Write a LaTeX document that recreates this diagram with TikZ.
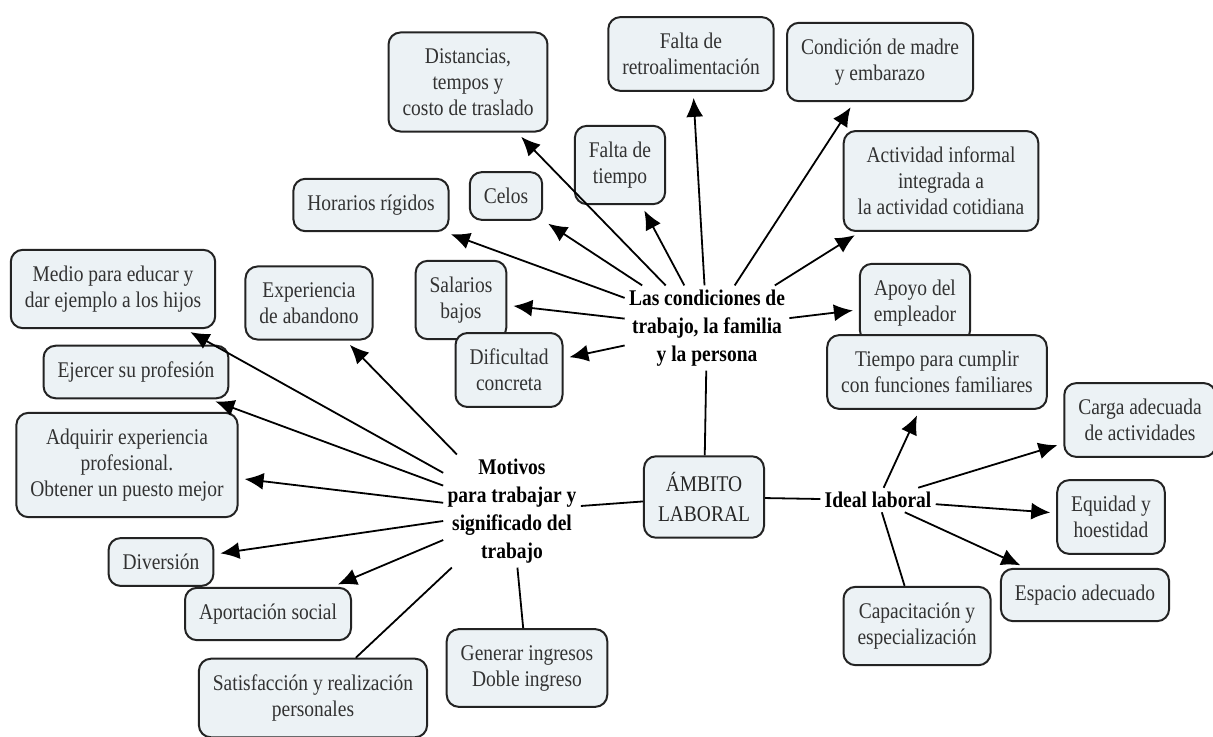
\documentclass[tikz,border=0pt]{standalone}
\usepackage{fontspec}
\setmainfont{Liberation Serif}[FakeStretch=0.87]
\usepackage{tikz}
\usetikzlibrary{positioning}
\usetikzlibrary{shapes,arrows.meta}

\definecolor{boxfill}{RGB}{236,242,245}
\definecolor{boxline}{RGB}{35,35,35}
\definecolor{boxtext}{RGB}{50,50,50}

\tikzset{
  idea/.style={draw=boxline, fill=boxfill, line width=1pt, rounded corners=6pt,
    align=center, text=boxtext, inner xsep=7pt, inner ysep=8pt,
    font=\rmfamily\fontsize{11.2}{13}\selectfont},
  hub/.style={align=center, inner sep=2pt, font=\rmfamily\fontsize{11.2}{14}\selectfont\bfseries},
  link/.style={draw=black, line width=0.9pt},
  arr/.style={link, -{Latex[length=9.5pt,width=8.5pt]}, shorten >=3pt},
}

\begin{document}
\begin{tikzpicture}[x=0.5pt,y=-0.5pt]
  \useasboundingbox (0,0) rectangle (1213,737);

  % centre
  \node[idea, text=black!85] (ambito) at (704,497) {ÁMBITO\\[2pt]LABORAL};
  \node[hub] (condiciones) at (707,328) {Las condiciones de\\trabajo, la familia\\y la persona};
  \node[hub] (motivos) at (512,511) {Motivos\\para trabajar y\\significado del\\trabajo};
  \node[hub] (ideal) at (878,500) {Ideal laboral};

  % condiciones
  \node[idea] (dist) at (468,82) {Distancias,\\tempos y\\costo de traslado};
  \node[idea] (retro) at (691,54) {Falta de\\retroalimentación};
  \node[idea] (cond) at (880,62) {Condición de madre\\y embarazo};
  \node[idea] (ftiempo) at (620,165) {Falta de\\tiempo};
  \node[idea] (celos) at (506,196) {Celos};
  \node[idea] (horarios) at (371,205) {Horarios rígidos};
  \node[idea] (activ) at (941,181) {Actividad informal\\integrada a\\la actividad cotidiana};
  \node[idea] (salarios) at (461,300) {Salarios\\bajos};
  \node[idea] (apoyo) at (915,303) {Apoyo del\\empleador};
  \node[idea] (dificultad) at (509,370) {Dificultad\\concreta};

  % motivos
  \node[idea] (medio) at (113,289) {Medio para educar y\\dar ejemplo a los hijos};
  \node[idea] (experiencia) at (309,303) {Experiencia\\de abandono};
  \node[idea] (ejercer) at (136,372) {Ejercer su profesión};
  \node[idea] (adquirir) at (127,465) {Adquirir experiencia\\profesional.\\Obtener un puesto mejor};
  \node[idea] (diversion) at (161,562) {Diversión};
  \node[idea] (aportacion) at (268,614) {Aportación social};
  \node[idea] (satisfaccion) at (313,698) {Satisfacción y realización\\personales};
  \node[idea] (generar) at (527,668) {Generar ingresos\\Doble ingreso};

  % ideal
  \node[idea] (tiempo) at (937,372) {Tiempo para cumplir\\con funciones familiares};
  \node[idea] (carga) at (1140,420) {Carga adecuada\\de actividades};
  \node[idea] (equidad) at (1111,517) {Equidad y\\hoestidad};
  \node[idea] (espacio) at (1085,595) {Espacio adecuado};
  \node[idea] (capacitacion) at (917,626) {Capacitación y\\especialización};

  \draw[link] (condiciones) -- (ambito);
  \draw[link] (ambito) -- (motivos);
  \draw[link] (ambito) -- (ideal);

  \foreach \t in {dist,retro,cond,ftiempo,celos,horarios,activ,salarios,apoyo,dificultad}
    \draw[arr] (condiciones) -- (\t);
  \foreach \t in {medio,experiencia,ejercer,adquirir,diversion,aportacion}
    \draw[arr] (motivos) -- (\t);
  \draw[link] (motivos) -- (satisfaccion);
  \draw[link] (motivos) -- (generar);
  \foreach \t in {tiempo,carga,equidad,espacio}
    \draw[arr] (ideal) -- (\t);
  \draw[link] (ideal) -- (capacitacion);
\end{tikzpicture}
\end{document}
